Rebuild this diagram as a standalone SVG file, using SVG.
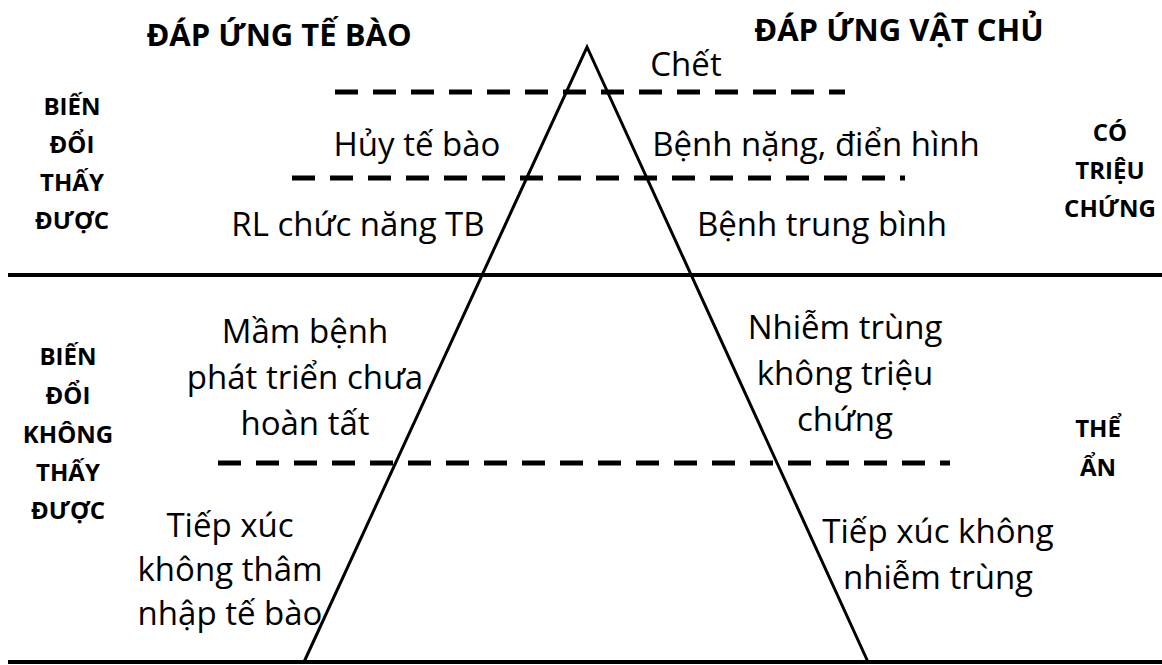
<svg xmlns="http://www.w3.org/2000/svg" width="1162" height="665" viewBox="0 0 1162 665">
  <style>
    .lbl { font-family: "Open Sans", "Noto Sans", sans-serif; font-size: 33px; fill: #000; text-anchor: middle; }
    .hd { font-family: "Open Sans", "Noto Sans", sans-serif; font-size: 31px; font-weight: bold; fill: #000; text-anchor: middle; }
    .side { font-family: "Open Sans", "Noto Sans", sans-serif; font-size: 24px; font-weight: bold; fill: #000; text-anchor: middle; }
    .solid { stroke: #000; stroke-width: 4; fill: none; }
    .leg { stroke: #000; stroke-width: 3; fill: none; }
    .dash { stroke: #000; stroke-width: 5; fill: none; stroke-dasharray: 23 15; }
  </style>
  <rect width="1162" height="665" fill="#fff"/>

  <!-- pyramid and level dividers -->
  <g id="connectors">
    <line class="solid" x1="8" y1="275" x2="1162" y2="275"/>
    <line class="solid" x1="8" y1="662" x2="1162" y2="662"/>
    <line class="dash" x1="335" y1="92" x2="845" y2="92"/>
    <line class="dash" x1="292" y1="178" x2="905" y2="178"/>
    <line class="dash" x1="218" y1="463" x2="950" y2="463"/>
    <polyline class="leg" points="304,662 587,47 868,662"/>
  </g>

  <!-- column headings -->
  <g id="head-cell"><text class="hd" x="279" y="46">ĐÁP ỨNG TẾ BÀO</text></g>
  <g id="head-host"><text class="hd" x="899" y="41">ĐÁP ỨNG VẬT CHỦ</text></g>

  <!-- side labels -->
  <g id="side-visible">
    <text class="side" x="72" y="115">BIẾN</text>
    <text class="side" x="72" y="153">ĐỔI</text>
    <text class="side" x="72" y="191">THẤY</text>
    <text class="side" x="72" y="229">ĐƯỢC</text>
  </g>
  <g id="side-invisible">
    <text class="side" x="68" y="365">BIẾN</text>
    <text class="side" x="68" y="404">ĐỔI</text>
    <text class="side" x="68" y="443">KHÔNG</text>
    <text class="side" x="68" y="481">THẤY</text>
    <text class="side" x="68" y="519">ĐƯỢC</text>
  </g>
  <g id="side-symptom">
    <text class="side" x="1110" y="141">CÓ</text>
    <text class="side" x="1110" y="179">TRIỆU</text>
    <text class="side" x="1110" y="217">CHỨNG</text>
  </g>
  <g id="side-latent">
    <text class="side" x="1098" y="437">THỂ</text>
    <text class="side" x="1098" y="476">ẨN</text>
  </g>

  <!-- cell responses -->
  <g id="cell-lysis"><text class="lbl" x="417" y="156">Hủy tế bào</text></g>
  <g id="cell-dysfunction"><text class="lbl" x="358" y="236">RL chức năng TB</text></g>
  <g id="cell-incomplete">
    <text class="lbl" x="305" y="343">Mầm bệnh</text>
    <text class="lbl" x="305" y="389">phát triển chưa</text>
    <text class="lbl" x="305" y="435">hoàn tất</text>
  </g>
  <g id="cell-contact">
    <text class="lbl" x="230" y="537">Tiếp xúc</text>
    <text class="lbl" x="230" y="581">không thâm</text>
    <text class="lbl" x="230" y="625">nhập tế bào</text>
  </g>

  <!-- host responses -->
  <g id="host-death"><text class="lbl" x="686" y="76">Chết</text></g>
  <g id="host-severe"><text class="lbl" x="816" y="156">Bệnh nặng, điển hình</text></g>
  <g id="host-moderate"><text class="lbl" x="822" y="236">Bệnh trung bình</text></g>
  <g id="host-asymptomatic">
    <text class="lbl" x="845" y="339">Nhiễm trùng</text>
    <text class="lbl" x="845" y="385">không triệu</text>
    <text class="lbl" x="845" y="431">chứng</text>
  </g>
  <g id="host-contact">
    <text class="lbl" x="938" y="543">Tiếp xúc không</text>
    <text class="lbl" x="938" y="589">nhiễm trùng</text>
  </g>
</svg>
